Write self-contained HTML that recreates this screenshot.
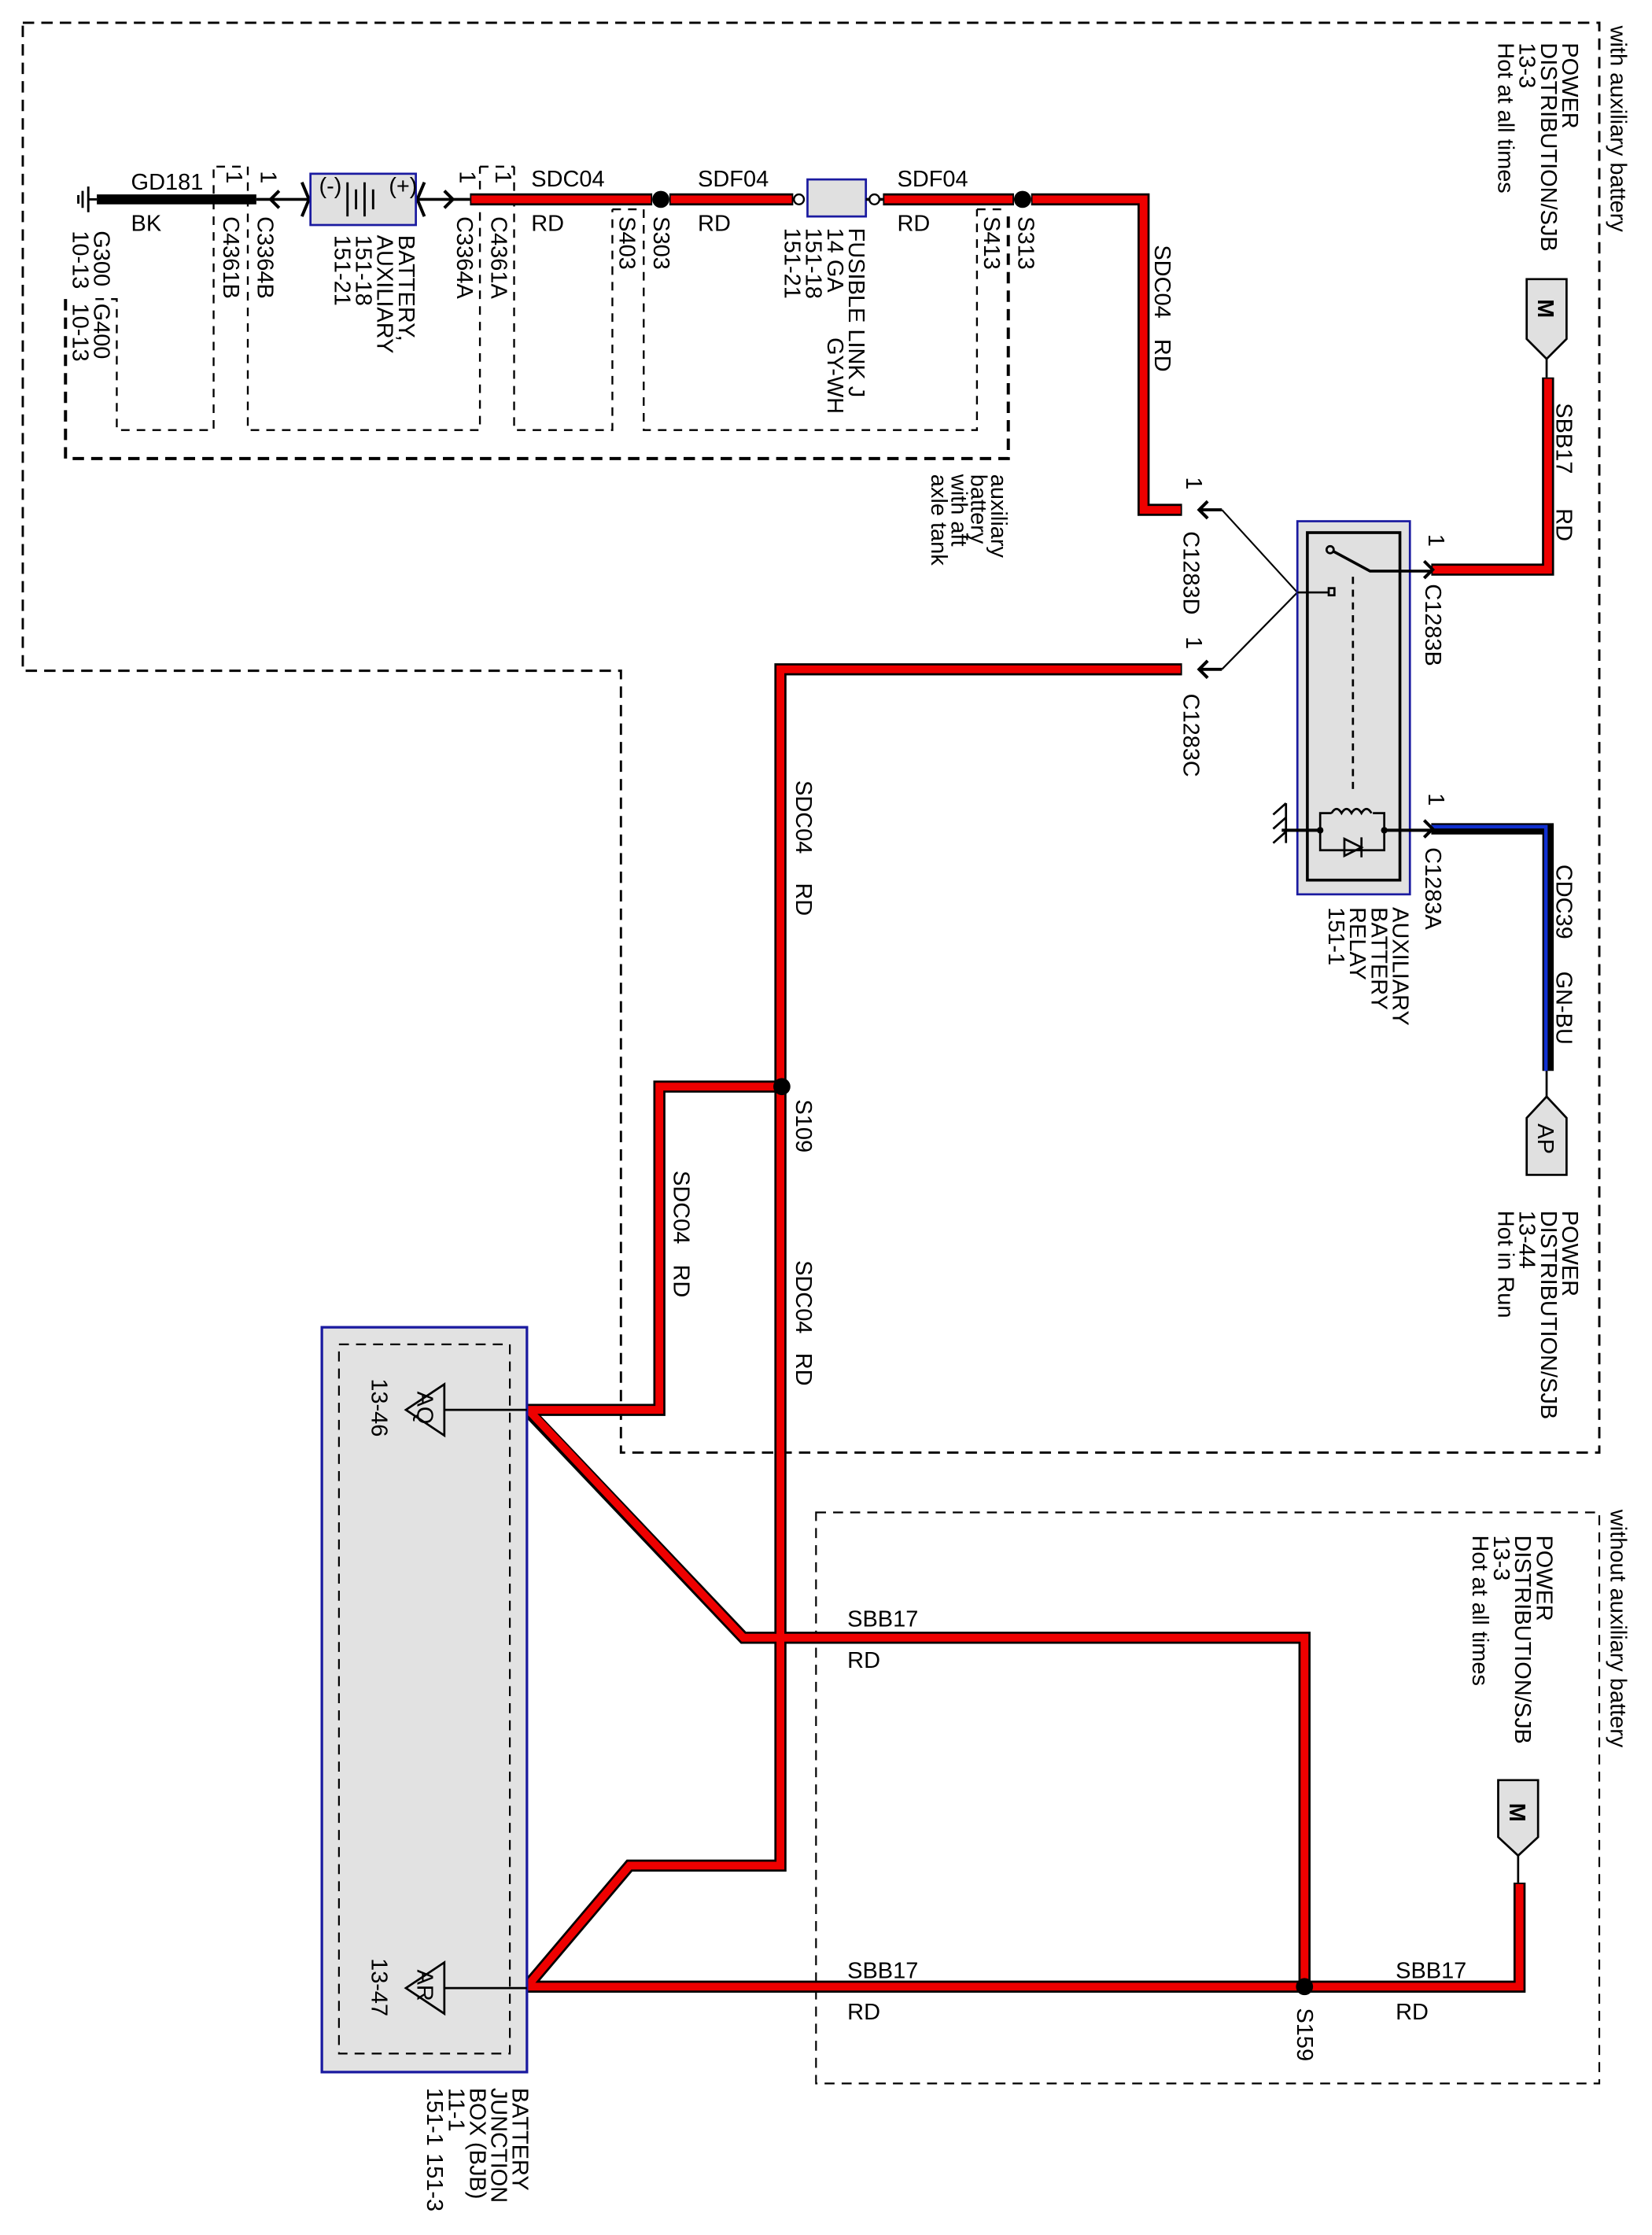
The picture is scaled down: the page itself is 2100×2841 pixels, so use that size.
<!DOCTYPE html>
<html><head><meta charset="utf-8"><style>
html,body{margin:0;padding:0;background:#fff;}
svg{display:block;}
text{font-family:"Liberation Sans",Arial,sans-serif;font-size:16px;fill:#000;}
</style></head><body>
<svg width="2100" height="2841" viewBox="0 0 1160 1569.4" preserveAspectRatio="none" xmlns="http://www.w3.org/2000/svg">
<g fill="none" stroke="#000">
<path d="M16,16 H1123 V1020 H436 V471 H16 Z" stroke-width="1.6" stroke-dasharray="8,5"/>
<rect x="573" y="1062" width="550" height="401" stroke-width="1.2" stroke-dasharray="7,5"/>
<path d="M46,210 V322 H708 V147" stroke-width="2.2" stroke-dasharray="8,5"/>
<g stroke-width="1.3" stroke-dasharray="6,5">
<path d="M67,210 H82 V302 H150 V117"/>
<path d="M152,117 H174"/>
<path d="M174,117 V302 H337 V117"/>
<path d="M337,117 H361"/>
<path d="M361,117 V302 H430 V147"/>
<path d="M430,147 H452"/>
<path d="M452,147 V302 H686 V147"/>
<path d="M686,147 H708"/>
</g>
</g>

<g fill="none" stroke-linejoin="miter" stroke-linecap="butt">
<g stroke="#000" stroke-width="8.5">
<path d="M330,140 H458"/><path d="M470,140 H557"/><path d="M620,140 H712"/>
<path d="M724,140 H803 V358 H830"/>
<path d="M830,470 H548 V1310 H442 L370,1395 H1067 V1322"/>
<path d="M549,763 H463 V990 H370 L522,1150 H916 V1395"/>
<path d="M1005,400 H1087 V265"/>
</g>
<g stroke="#ee0000" stroke-width="5.5">
<path d="M331,140 H457"/><path d="M471,140 H556"/><path d="M621,140 H711"/>
<path d="M725,140 H803 V358 H829"/>
<path d="M829,470 H548 V1310 H442 L370,1395 H1067 V1323"/>
<path d="M548,763 H463 V990 H371 L522,1150 H916 V1394"/>
<path d="M1006,400 H1087 V266"/>
</g>
<path d="M1005,582 H1087 V752" stroke="#000" stroke-width="8"/>
<path d="M1005,580.5 H1085.5 V752" stroke="#1030d0" stroke-width="2.5"/>
<path d="M68,140 H180" stroke="#000" stroke-width="7"/>
<path d="M180,140 H218 M292,140 H330" stroke="#000" stroke-width="2"/>
</g>

<g fill="#000">
<circle cx="464" cy="140" r="6"/><circle cx="718" cy="140" r="6"/>
<circle cx="549" cy="763" r="6"/><circle cx="916" cy="1395" r="6"/>
</g>

<g stroke="#000" stroke-width="1.6">
<path d="M62,131 V149 M58,134 V146 M55,137 V143 M62,140 H68"/>
</g>
<g fill="none" stroke="#000" stroke-width="2.2">
<path d="M196,134 L190,140 L196,146"/>
<path d="M312,134 L318,140 L312,146"/>
<path d="M212,128 L217,140 L212,152"/>
<path d="M298,128 L293,140 L298,152"/>
<path d="M848,352 L842,358 L848,364 M842,358 H858"/>
<path d="M848,464 L842,470 L848,476 M842,470 H858"/>
<path d="M1000,394 L1006,400 L1000,406"/>
<path d="M1000,576 L1006,582 L1000,588"/>
</g>
<g fill="none" stroke="#000" stroke-width="1.2">
<path d="M858,358 L911,416 L858,470"/>
</g>

<rect x="218" y="122" width="74" height="36" fill="#e0e0e0" stroke="#1a1aa0" stroke-width="1.5"/>
<g stroke="#000" stroke-width="1.6">
<path d="M244,128 V152 M250,133 V147 M256,128 V152 M262,133 V147"/>
</g>
<text x="224" y="136" font-size="11">(-)</text>
<text x="273" y="136" font-size="11">(+)</text>

<rect x="567" y="126" width="41" height="26" fill="#e0e0e0" stroke="#1a1aa0" stroke-width="1.5"/>
<circle cx="561" cy="140" r="3.5" fill="#fff" stroke="#000" stroke-width="1.3"/>
<circle cx="614" cy="140" r="3.5" fill="#fff" stroke="#000" stroke-width="1.3"/>
<path d="M557,140 H558 M608,140 H611 M617,140 H620" stroke="#000" stroke-width="2"/>

<rect x="911" y="366" width="79" height="262" fill="#e0e0e0" stroke="#1a1aa0" stroke-width="1.5"/>
<rect x="918" y="374" width="65" height="244" fill="none" stroke="#000" stroke-width="2"/>
<g stroke="#000" fill="none" stroke-width="1.5">
<circle cx="934" cy="386" r="2.5"/>
<path d="M936,387 L962,401 H1006" stroke-width="2"/>
<rect x="933" y="413" width="4" height="5"/>
<path d="M911,416 H933"/>
<path d="M950,405 V557" stroke-dasharray="5,4"/>
<path d="M927,583 V571 H935 M964,571 H972 V583 M927,583 V597 H972 V583"/>
<path d="M935,571 q3.5,-6 7,0 q3.5,-6 7,0 q3.5,-6 7,0 q3.5,-6 7,0"/>
<path d="M944,589 L956,595 L944,601 Z M956,588 V602"/>
<path d="M900,583 H927 M972,583 H1006" stroke-width="2.2"/>
<path d="M903,564 L894,572 M903,574 L894,582 M903,584 L894,592 M903,564 V592"/>
</g>
<circle cx="927" cy="583" r="2.3"/><circle cx="972" cy="583" r="2.3"/>

<g stroke="#000" stroke-width="1.5" fill="#e0e0e0">
<path d="M1072,196 H1100 V238 L1086,252 L1072,238 Z"/>
<path d="M1052,1250 H1080 V1290 L1066,1303 L1052,1290 Z"/>
<path d="M1072,785 L1086,770 L1100,785 V825 H1072 Z"/>
</g>
<path d="M1086,252 V265 M1066,1303 V1322 M1086,752 V770" stroke="#000" stroke-width="1.5"/>

<rect x="226" y="932" width="144" height="523" fill="#e2e2e2" stroke="#1a1aa0" stroke-width="1.8"/>
<rect x="238" y="944" width="120" height="498" fill="none" stroke="#000" stroke-width="1.2" stroke-dasharray="7,5"/>
<g fill="none" stroke="#000" stroke-width="1.5">
<path d="M312,972 V1008 L285,990 Z M312,990 H370"/>
<path d="M312,1378 V1414 L285,1396 Z M312,1396 H370"/>
</g>

<text x="92" y="133">GD181</text><text x="92" y="162">BK</text>
<text x="373" y="131">SDC04</text><text x="373" y="162">RD</text>
<text x="490" y="131">SDF04</text><text x="490" y="162">RD</text>
<text x="630" y="131">SDF04</text><text x="630" y="162">RD</text>
<text x="595" y="1142">SBB17</text><text x="595" y="1171">RD</text>
<text x="595" y="1389">SBB17</text><text x="595" y="1418">RD</text>
<text x="980" y="1389">SBB17</text><text x="980" y="1418">RD</text>

<g transform="translate(3,0)">
<text transform="translate(1128,18) rotate(90)">with auxiliary battery</text>
<text transform="translate(1128,1060) rotate(90)">without auxiliary battery</text>
<text transform="translate(1094,30) rotate(90)">POWER</text>
<text transform="translate(1079,30) rotate(90)">DISTRIBUTION/SJB</text>
<text transform="translate(1064,30) rotate(90)">13-3</text>
<text transform="translate(1049,30) rotate(90)">Hot at all times</text>
<text transform="translate(1094,850) rotate(90)">POWER</text>
<text transform="translate(1079,850) rotate(90)">DISTRIBUTION/SJB</text>
<text transform="translate(1064,850) rotate(90)">13-44</text>
<text transform="translate(1049,850) rotate(90)">Hot in Run</text>
<text transform="translate(1076,1078) rotate(90)">POWER</text>
<text transform="translate(1061,1078) rotate(90)">DISTRIBUTION/SJB</text>
<text transform="translate(1046,1078) rotate(90)">13-3</text>
<text transform="translate(1031,1078) rotate(90)">Hot at all times</text>
<text transform="translate(1077,210) rotate(90)" font-weight="bold" font-size="13">M</text>
<text transform="translate(1057,1266) rotate(90)" font-weight="bold" font-size="13">M</text>
<text transform="translate(1077,789) rotate(90)" font-size="13">AP</text>
<text transform="translate(1090,283) rotate(90)">SBB17</text>
<text transform="translate(1090,357) rotate(90)">RD</text>
<text transform="translate(1090,607) rotate(90)">CDC39</text>
<text transform="translate(1090,682) rotate(90)">GN-BU</text>
<text transform="translate(808,172) rotate(90)">SDC04</text>
<text transform="translate(808,238) rotate(90)">RD</text>
<text transform="translate(830,335) rotate(90)">1</text>
<text transform="translate(828,373) rotate(90)">C1283D</text>
<text transform="translate(830,447) rotate(90)">1</text>
<text transform="translate(828,487) rotate(90)">C1283C</text>
<text transform="translate(1000,375) rotate(90)">1</text>
<text transform="translate(998,410) rotate(90)">C1283B</text>
<text transform="translate(1000,557) rotate(90)">1</text>
<text transform="translate(998,595) rotate(90)">C1283A</text>
<text transform="translate(975,637) rotate(90)">AUXILIARY</text>
<text transform="translate(960,637) rotate(90)">BATTERY</text>
<text transform="translate(945,637) rotate(90)">RELAY</text>
<text transform="translate(930,637) rotate(90)">151-1</text>
<text transform="translate(693,333) rotate(90)" font-size="14">auxiliary</text>
<text transform="translate(679,333) rotate(90)" font-size="14">battery</text>
<text transform="translate(665,333) rotate(90)" font-size="14">with aft</text>
<text transform="translate(651,333) rotate(90)" font-size="14">axle tank</text>
<text transform="translate(63,162) rotate(90)">G300</text>
<text transform="translate(48,162) rotate(90)">10-13</text>
<text transform="translate(63,213) rotate(90)">G400</text>
<text transform="translate(48,213) rotate(90)">10-13</text>
<text transform="translate(180,120) rotate(90)">1</text>
<text transform="translate(178,152) rotate(90)">C3364B</text>
<text transform="translate(156,120) rotate(90)">1</text>
<text transform="translate(154,152) rotate(90)">C4361B</text>
<text transform="translate(277,165) rotate(90)">BATTERY,</text>
<text transform="translate(262,165) rotate(90)">AUXILIARY</text>
<text transform="translate(247,165) rotate(90)">151-18</text>
<text transform="translate(232,165) rotate(90)">151-21</text>
<text transform="translate(320,120) rotate(90)">1</text>
<text transform="translate(318,152) rotate(90)">C3364A</text>
<text transform="translate(345,120) rotate(90)">1</text>
<text transform="translate(342,152) rotate(90)">C4361A</text>
<text transform="translate(432,152) rotate(90)">S403</text>
<text transform="translate(456,152) rotate(90)">S303</text>
<text transform="translate(593,160) rotate(90)">FUSIBLE LINK J</text>
<text transform="translate(578,160) rotate(90)">14 GA</text>
<text transform="translate(578,237) rotate(90)">GY-WH</text>
<text transform="translate(563,160) rotate(90)">151-18</text>
<text transform="translate(548,160) rotate(90)">151-21</text>
<text transform="translate(688,152) rotate(90)">S413</text>
<text transform="translate(712,152) rotate(90)">S313</text>
<text transform="translate(556,548) rotate(90)">SDC04</text>
<text transform="translate(556,620) rotate(90)">RD</text>
<text transform="translate(556,772) rotate(90)">S109</text>
<text transform="translate(470,822) rotate(90)">SDC04</text>
<text transform="translate(470,888) rotate(90)">RD</text>
<text transform="translate(556,885) rotate(90)">SDC04</text>
<text transform="translate(556,950) rotate(90)">RD</text>
<text transform="translate(908,1410) rotate(90)">S159</text>
<text transform="translate(258,968) rotate(90)">13-46</text>
<text transform="translate(258,1375) rotate(90)">13-47</text>
<text transform="translate(290,977) rotate(90)" font-size="13">AQ</text>
<text transform="translate(290,1383) rotate(90)" font-size="13">AR</text>
<text transform="translate(357,1466) rotate(90)">BATTERY</text>
<text transform="translate(342,1466) rotate(90)">JUNCTION</text>
<text transform="translate(327,1466) rotate(90)">BOX (BJB)</text>
<text transform="translate(312,1466) rotate(90)">11-1</text>
<text transform="translate(297,1466) rotate(90)">151-1</text>
<text transform="translate(297,1512) rotate(90)">151-3</text>
</g>
</svg>
</body></html>
